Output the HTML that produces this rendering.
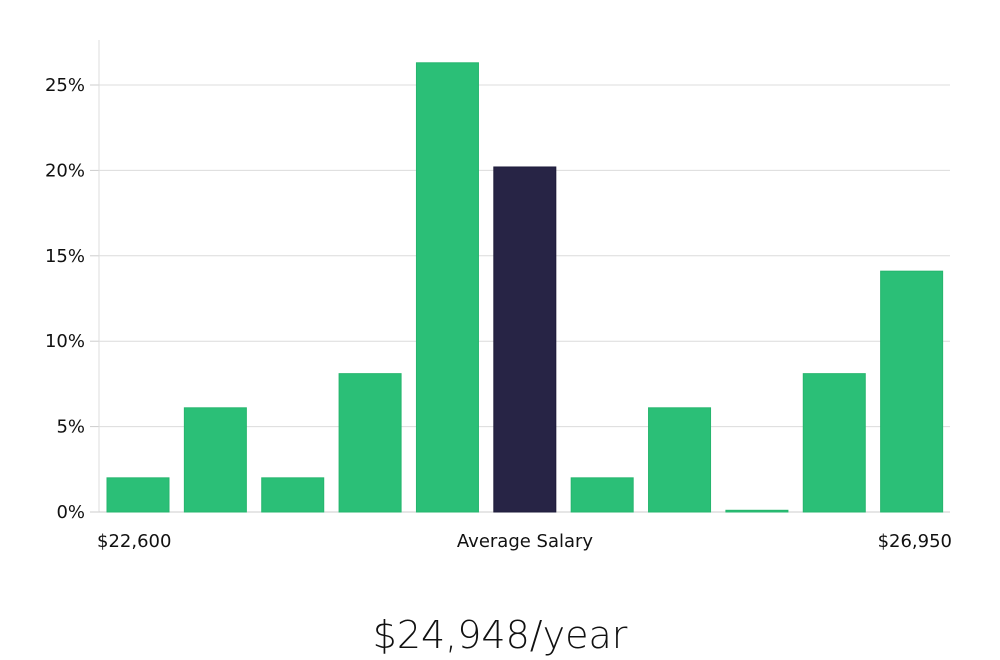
<!DOCTYPE html>
<html><head><meta charset="utf-8"><style>
html,body{margin:0;padding:0;background:#fff;width:1000px;height:660px;overflow:hidden}
svg text{font-family:"DejaVu Sans","Liberation Sans",sans-serif;fill:#111}
</style></head><body>
<svg id="chart" width="1000" height="660" xmlns="http://www.w3.org/2000/svg"></svg>
<script>
const categories=["b1","b2","b3","b4","b5","b6","b7","b8","b9","b10","b11"];
const values=[2,6.1,2,8.1,26.3,20.2,2,6.1,0.1,8.1,14.1];
const highlight=[false,false,false,false,false,true,false,false,false,false,false];
const yTicks=[0,5,10,15,20,25];
const yTickLabels=["0%","5%","10%","15%","20%","25%"];
const xLabels=["$22,600","Average Salary","$26,950"];
const title="$24,948/year";

const NS="http://www.w3.org/2000/svg";
const svg=document.getElementById('chart');
const X0=99,X1=950,Y0=512,PX_PER=17.08;
const y=v=>Y0-v*PX_PER;
const step=(X1-X0)/categories.length;
const x=i=>X0+step*i;
function mk(tag,attrs){const e=document.createElementNS(NS,tag);for(const k in attrs)e.setAttribute(k,attrs[k]);svg.appendChild(e);return e;}

yTicks.forEach((t,i)=>{
  if(t>0){const g=mk('line',{x1:X0,x2:X1,y1:y(t),y2:y(t),stroke:'#dcdcdc','stroke-width':1});
  
  }
  const tk=mk('line',{x1:90,x2:X0,y1:y(t),y2:y(t),stroke:'#ccc','stroke-width':1});
  
  
  const tx=mk('text',{x:85,y:y(t)+6,'text-anchor':'end','font-size':18});
  tx.textContent=yTickLabels[i];
  
  
});
const ax=mk('line',{x1:X0,x2:X0,y1:40,y2:Y0,stroke:'#ddd','stroke-width':1});


const bx=mk('line',{x1:X0,x2:X1,y1:Y0,y2:Y0,stroke:'#ccc','stroke-width':1});



values.forEach((v,i)=>{
  const bw=62;
  const r=mk('rect',{x:x(i)+8,y:y(v),width:bw,height:Math.max(Y0-y(v),1),
    fill:highlight[i]?'#272445':'#2bbf77',stroke:highlight[i]?'#1e1b3a':'#25b56d','stroke-width':1});
  
  
});

const xl=[[97,'start'],[525,'middle'],[952,'end']];
xLabels.forEach((l,i)=>{
  const t=mk('text',{x:xl[i][0],y:547,'text-anchor':xl[i][1],'font-size':18});
  t.textContent=l;
  
  
});
const tt=mk('text',{x:500,y:648,'text-anchor':'middle','font-size':38,'font-weight':200});
tt.textContent=title;


</script>
</body></html>
